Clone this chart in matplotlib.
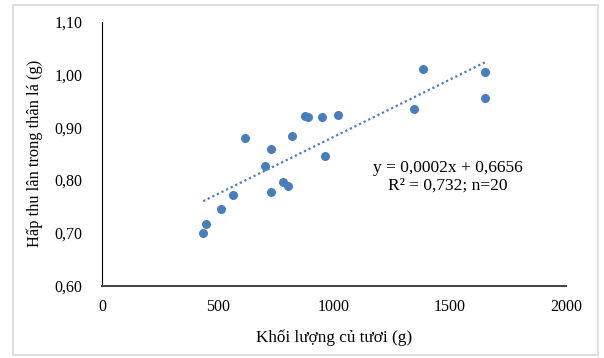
import numpy as np
import matplotlib
matplotlib.use("Agg")
import matplotlib.pyplot as plt
from matplotlib.patches import Rectangle

plt.rcParams['font.family'] = ['Liberation Serif', 'DejaVu Serif']

# fresh tuber weight (g) and phosphorus uptake in stem+leaves (g)
khoi_luong = [436, 450, 512, 565, 701, 728, 780, 800, 963, 617,
              728, 820, 873, 889, 949, 1016, 1385, 1650, 1650, 1346]
hap_thu = [0.700, 0.717, 0.745, 0.772, 0.826, 0.778, 0.797, 0.788, 0.846, 0.880,
           0.859, 0.884, 0.922, 0.919, 0.919, 0.923, 1.010, 1.006, 0.956, 0.935]

y_ticks = [0.60, 0.70, 0.80, 0.90, 1.00, 1.10]
x_ticks = [0, 500, 1000, 1500, 2000]

blue = '#4A7EBB'

fig = plt.figure(figsize=(6.04, 3.58), dpi=100)
ax = fig.add_axes([102 / 604, 1 - 285.5 / 358, 464 / 604, 263.5 / 358])

# light gray frame round the chart area
fig.patches.append(Rectangle((13 / 604, 1 - 355 / 358), 585 / 604, 350 / 358,
                             transform=fig.transFigure, fill=False,
                             edgecolor='#d9d9d9', linewidth=1.2))

ax.scatter(khoi_luong, hap_thu, s=42, color=blue, zorder=3, linewidths=0)

# linear trend line like excel
x = np.array(khoi_luong)
slope, intercept = np.polyfit(x, hap_thu, 1)
xl = np.array([x.min(), x.max()])
ax.plot(xl, slope * xl + intercept, linestyle=(0, (1, 1.3)), color=blue, linewidth=1.6)

ax.text(1490, 0.807, 'y = 0,0002x + 0,6656\nR² = 0,732; n=20',
        ha='center', va='center', fontsize=12.5, linespacing=1.12)

ax.set_xlim(0, 2000)
ax.set_ylim(0.60, 1.10)
ax.set_xticks(x_ticks)
ax.set_xticklabels([str(v) for v in x_ticks])
ax.set_yticks(y_ticks)
ax.set_yticklabels([f'{v:.2f}'.replace('.', ',') for v in y_ticks])
ax.tick_params(length=0, labelsize=11.5, pad=10)
ax.tick_params(axis='y', pad=14)

for s in ['top', 'right']:
    ax.spines[s].set_visible(False)
ax.spines['left'].set_color('black')
ax.spines['bottom'].set_color('#404040')
ax.spines['bottom'].set_linewidth(1.4)

ax.set_xlabel('Khối lượng củ tươi (g)', fontsize=12.3, labelpad=10)
ax.set_ylabel('Hấp thu lân trong thân lá (g)', fontsize=11.8, labelpad=8)

fig.savefig('out.png', dpi=100)
